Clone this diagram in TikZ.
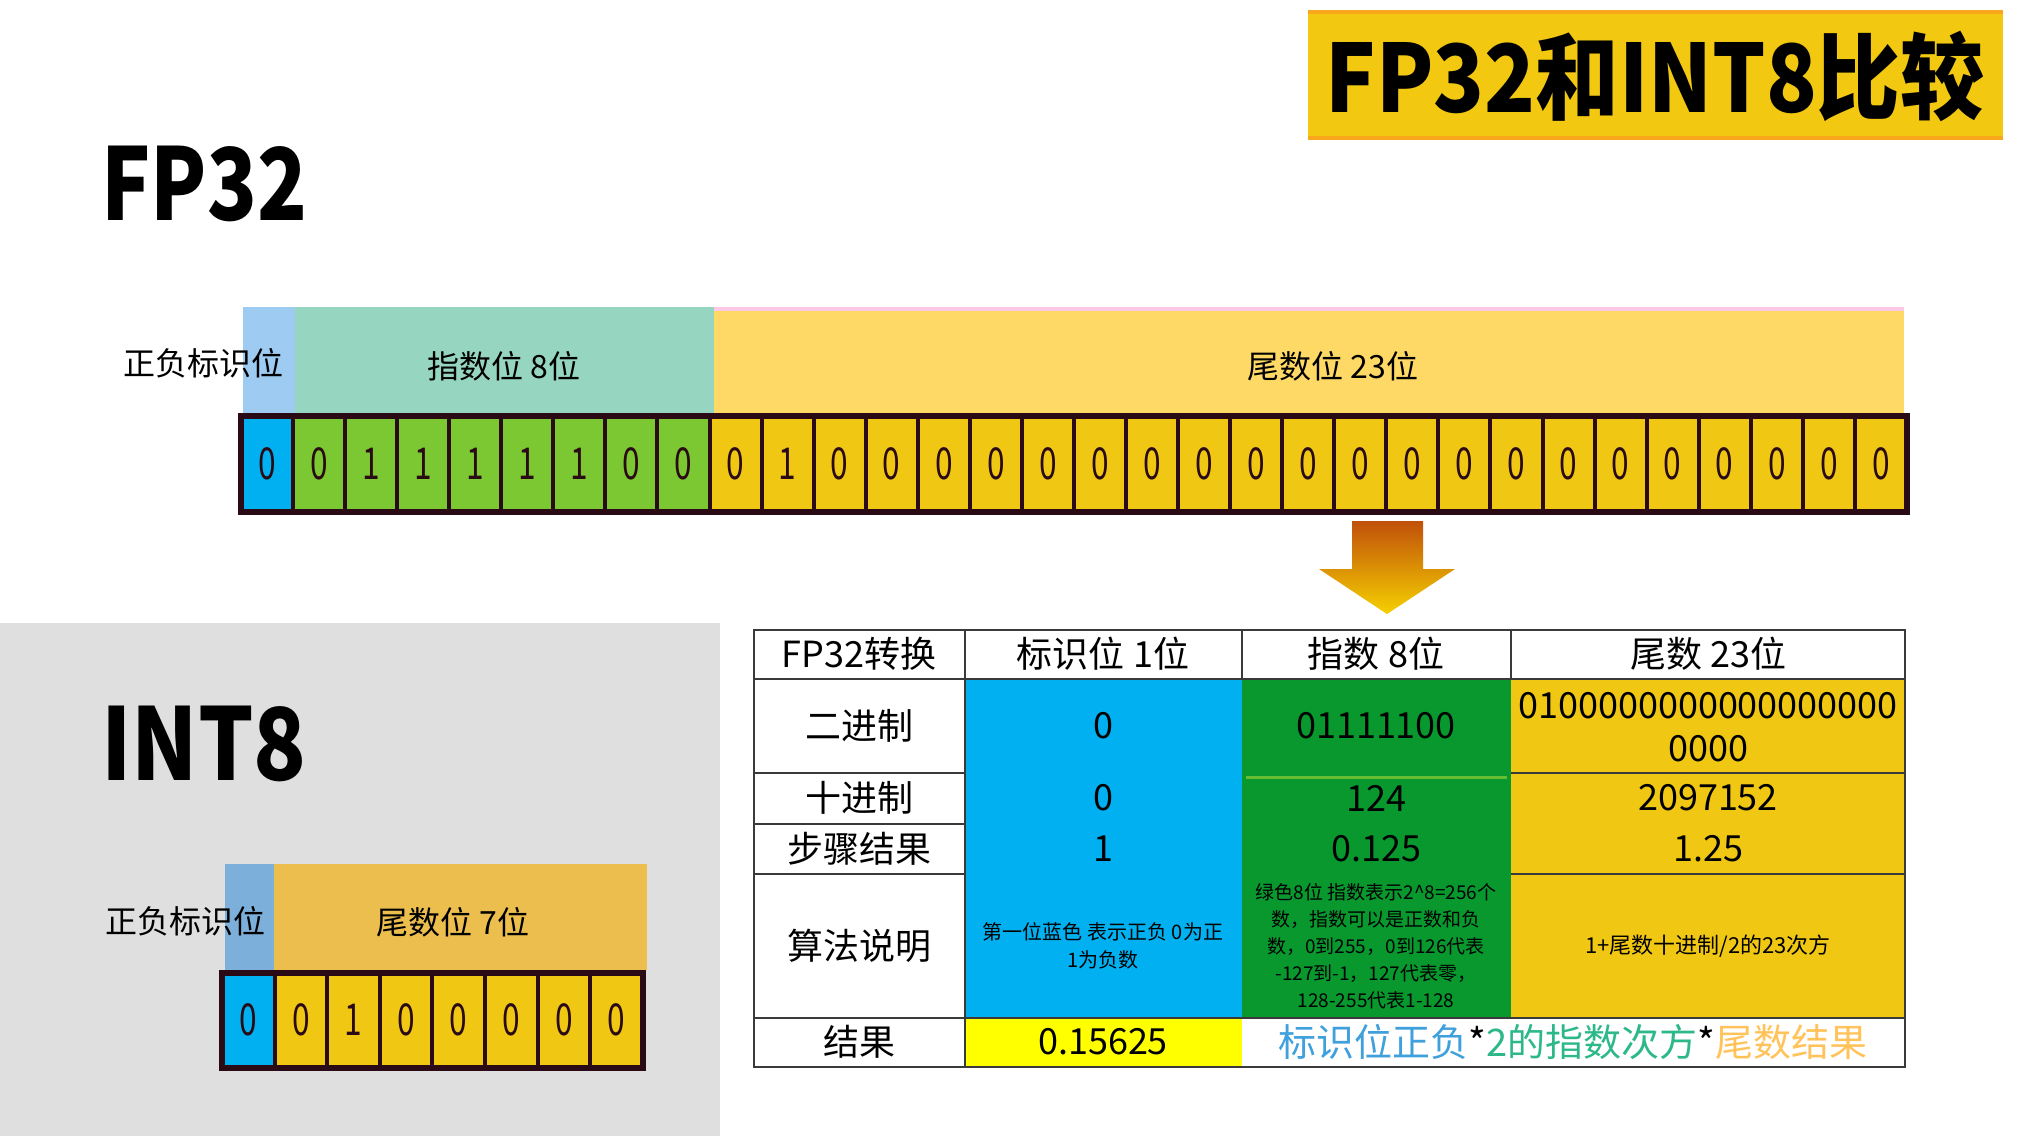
\documentclass[tikz,border=0pt]{standalone}
\usepackage{fontspec}
\setmainfont{Noto Sans CJK SC}
\usepackage{xcolor}

\definecolor{signblue}{HTML}{00B0F0}
\definecolor{expgreen}{HTML}{7CC832}
\definecolor{mantyellow}{HTML}{F0C814}
\definecolor{bitline}{HTML}{2A0A14}
\definecolor{bandblue}{HTML}{9DCBF2}
\definecolor{bandteal}{HTML}{96D5C0}
\definecolor{bandgold}{HTML}{FFD966}
\definecolor{bandpink}{HTML}{FFC8E6}
\definecolor{intblue}{HTML}{7DAFDB}
\definecolor{intorange}{HTML}{EBBE4E}
\definecolor{panelgray}{HTML}{DFDFDF}
\definecolor{titleyellow}{HTML}{F2C811}
\definecolor{titleedge}{HTML}{F9A81C}
\definecolor{tabgreen}{HTML}{08982E}
\definecolor{tabline}{HTML}{3A3A3A}
\definecolor{resyellow}{HTML}{FFFF00}
\definecolor{txtblue}{HTML}{3FA0DC}
\definecolor{txtgreen}{HTML}{2DB88A}
\definecolor{txtorange}{HTML}{FFC35A}
\definecolor{arrowtop}{HTML}{C0500A}
\definecolor{arrowbot}{HTML}{F5D000}

\begin{document}
\begin{tikzpicture}[x=0.5pt,y=0.5pt,yscale=-1,xscale=1,
    bitcell/.style={draw=bitline,line width=2pt},
    bitnum/.style={inner sep=0pt,font=\fontsize{22}{26}\selectfont,xscale=0.72,text=bitline},
    bandtxt/.style={inner sep=0pt,font=\fontsize{16}{19}\selectfont},
    tabtxt/.style={inner sep=0pt,font=\fontsize{18}{21.5}\selectfont,align=center},
    notetxt/.style={inner sep=0pt,align=center},
    bigtitle/.style={inner sep=0pt,font=\fontsize{50}{60}\selectfont\bfseries,xscale=0.82},
    tabrule/.style={draw=tabline,line width=0.75pt}]
    \useasboundingbox (0,0) rectangle (2028,1136);
    \fill[white] (0,0) rectangle (2028,1136);

    %Shape: Rectangle [id:title box]
    \fill[titleyellow] (1308,10) rectangle (2003,140);
    \draw[titleedge,line width=2pt] (1308,12) -- (2003,12) (1308,138) -- (2003,138);
    % Text Node
    \node[inner sep=0pt,font=\fontsize{47}{56}\selectfont\bfseries,xscale=0.89] (title) at (1655,76) {FP32和INT8比较};

    % Text Node
    \node[bigtitle,anchor=base west] (fplabel) at (101,220) {FP32};

    %Shape: Rectangle [id:fp32 bands]
    \fill[bandblue] (243,307) rectangle (295,414);
    \fill[bandteal] (295,307) rectangle (714,414);
    \fill[bandgold] (714,307) rectangle (1904,414);
    \draw[bandpink,line width=2pt] (714,309) -- (1904,309);
    % Text Node
    \node[bandtxt,anchor=east] (fpsign) at (284,363) {正负标识位};
    \node[bandtxt] (fpexp) at (504,366) {指数位 8位};
    \node[bandtxt] (fpmant) at (1333,366) {尾数位 23位};

    %Shape: bit cells fp32
    \foreach \b [count=\i from 0] in {0,0,1,1,1,1,1,0,0,0,1,0,0,0,0,0,0,0,0,0,0,0,0,0,0,0,0,0,0,0,0,0}{
      \ifnum\i=0 \def\cc{signblue}\else\ifnum\i<9 \def\cc{expgreen}\else\def\cc{mantyellow}\fi\fi
      \draw[bitcell,fill=\cc] ({241+\i*52.06},416) rectangle ({241+(\i+1)*52.06},512);
      \node[bitnum] (fp\i) at ({241+(\i+0.5)*52.06},464) {\b};
    }
    \draw[bitline,line width=3pt] (241,416) rectangle (1907,512);

    %Shape: Down Arrow [id:arrow]
    \shade[top color=arrowtop,bottom color=arrowbot] (1352,521) -- (1423,521) -- (1423,569) -- (1455,569) -- (1387,614) -- (1319,569) -- (1352,569) -- cycle;

    %Shape: Rectangle [id:int8 panel]
    \fill[panelgray] (0,623) rectangle (720,1136);
    % Text Node
    \node[bigtitle,anchor=base west,xscale=1.06] (intlabel) at (101,780) {INT8};

    %Shape: Rectangle [id:int8 bands]
    \fill[intblue] (225,864) rectangle (274,970);
    \fill[intorange] (274,864) rectangle (647,970);
    % Text Node
    \node[bandtxt,anchor=east] (intsign) at (266,921) {正负标识位};
    \node[bandtxt] (intmant) at (453,922) {尾数位 7位};

    %Shape: bit cells int8
    \foreach \b [count=\i from 0] in {0,0,1,0,0,0,0,0}{
      \ifnum\i=0 \def\cc{signblue}\else\def\cc{mantyellow}\fi
      \draw[bitcell,fill=\cc] ({222+\i*52.6},973) rectangle ({222+(\i+1)*52.6},1068);
      \node[bitnum] (int\i) at ({222+(\i+0.5)*52.6},1020) {\b};
    }
    \draw[bitline,line width=3pt] (222,973) rectangle (643,1068);

    %Shape: Table [id:conversion table]
    \fill[white] (754,630) rectangle (1905,1067);
    \fill[signblue] (965,679) rectangle (1242,1018);
    \fill[tabgreen] (1242,679) rectangle (1511,1018);
    \fill[mantyellow] (1511,679) rectangle (1905,1018);
    \fill[resyellow] (965,1018) rectangle (1242,1067);
    \draw[tabrule] (754,630) rectangle (1905,1067);
    \draw[tabrule] (754,679) -- (1905,679) (754,1018) -- (1905,1018);
    \draw[tabrule] (965,630) -- (965,1067) (1242,630) -- (1242,679) (1511,630) -- (1511,679);
    \draw[tabrule] (754,773) -- (965,773) (754,824) -- (965,824) (754,874) -- (965,874);
    \draw[tabrule] (1511,773) -- (1905,773) (1511,874) -- (1905,874);
    \draw[expgreen!80!tabgreen,line width=1.5pt] (1246,777) -- (1507,777);

    % Text Node
    \node[tabtxt] (h1) at (859,654) {FP32转换};
    \node[tabtxt] (h2) at (1103,654) {标识位 1位};
    \node[tabtxt] (h3) at (1376,654) {指数 8位};
    \node[tabtxt] (h4) at (1708,654) {尾数 23位};
    \node[tabtxt] (r1) at (859,726) {二进制};
    \node[tabtxt] (r2) at (859,798) {十进制};
    \node[tabtxt] (r3) at (859,849) {步骤结果};
    \node[tabtxt] (r4) at (859,946) {算法说明};
    \node[tabtxt] (r5) at (859,1042) {结果};
    \node[tabtxt] (s1) at (1103,726) {0};
    \node[tabtxt] (s2) at (1103,798) {0};
    \node[tabtxt] (s3) at (1103,849) {1};
    \node[notetxt,font=\fontsize{10}{14}\selectfont] (s4) at (1103,946) {第一位蓝色 表示正负 0为正\\1为负数};
    \node[tabtxt] (e1) at (1376,726) {01111100};
    \node[tabtxt] (e2) at (1376,798) {124};
    \node[tabtxt] (e3) at (1376,849) {0.125};
    \node[notetxt,font=\fontsize{9.5}{13.5}\selectfont] (e4) at (1376,946) {绿色8位 指数表示2\^{}8=256个\\数，指数可以是正数和负\\数，0到255，0到126代表\\-127到-1，127代表零，\\128-255代表1-128};
    \node[tabtxt] (m1) at (1708,727) {0100000000000000000\\0000};
    \node[tabtxt] (m2) at (1708,798) {2097152};
    \node[tabtxt] (m3) at (1708,849) {1.25};
    \node[notetxt,font=\fontsize{11}{14}\selectfont] (m4) at (1708,946) {1+尾数十进制/2的23次方};
    \node[tabtxt] (res) at (1103,1042) {0.15625};
    \node[inner sep=0pt,font=\fontsize{19}{23}\selectfont] (formula) at (1573,1042) {\textcolor{txtblue}{标识位正负}*\textcolor{txtgreen}{2的指数次方}*\textcolor{txtorange}{尾数结果}};

\end{tikzpicture}
\end{document}
